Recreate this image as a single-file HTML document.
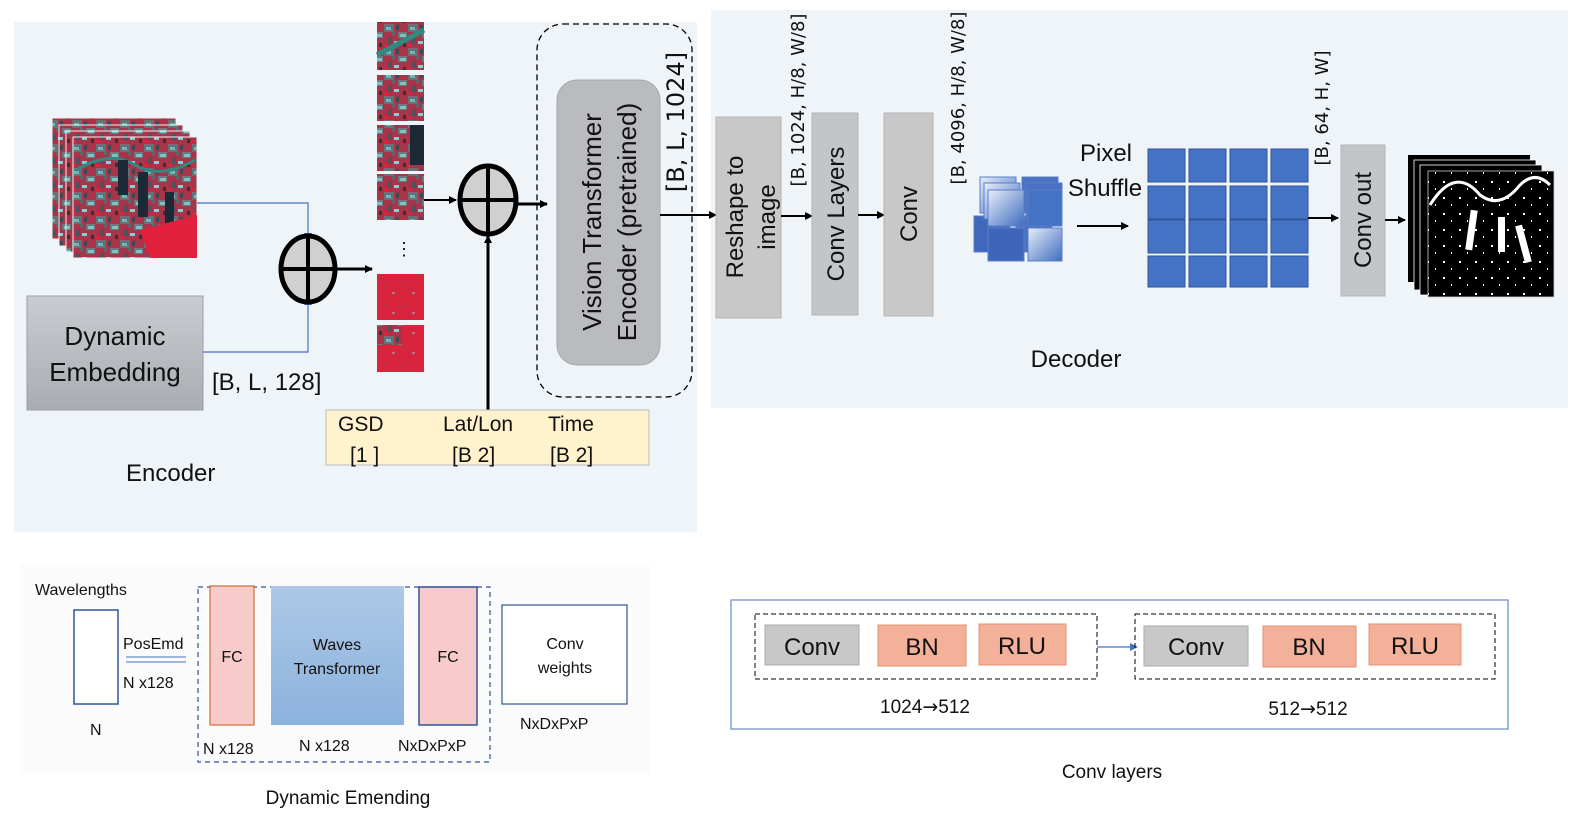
<!DOCTYPE html>
<html><head><meta charset="utf-8"><style>
html,body{margin:0;padding:0;background:#fff;}
svg{display:block;}
text{font-family:"Liberation Sans",sans-serif;fill:#111;}
.dv{font-family:"DejaVu Sans",sans-serif;}
</style></head><body>
<svg width="1584" height="825" viewBox="0 0 1584 825" xmlns="http://www.w3.org/2000/svg">
<defs>
<marker id="ah" markerWidth="8" markerHeight="8" refX="7" refY="4" orient="auto" markerUnits="userSpaceOnUse"><path d="M0,0 L8,4 L0,8 z" fill="#000"/></marker>
<marker id="ab" markerWidth="8" markerHeight="8" refX="7" refY="4" orient="auto" markerUnits="userSpaceOnUse"><path d="M0,0 L8,4 L0,8 z" fill="#4472c4"/></marker>
<pattern id="sat" width="24" height="24" patternUnits="userSpaceOnUse">
<rect width="24" height="24" fill="#a8344a"/>
<rect x="0" y="0" width="10" height="8" fill="#6a6f78"/><rect x="2" y="3" width="5" height="3" fill="#6fb8b8"/><rect x="12" y="1" width="3" height="5" fill="#3d4a55"/>
<rect x="14" y="8" width="9" height="6" fill="#707880"/><rect x="16" y="10" width="6" height="3" fill="#7cc4c4"/><rect x="4" y="14" width="4" height="6" fill="#4a5560"/>
<rect x="10" y="17" width="5" height="3" fill="#8ad0d0"/><rect x="19" y="19" width="3" height="4" fill="#333"/>
<rect x="8" y="8" width="3" height="3" fill="#5a6a75"/><rect x="0" y="20" width="4" height="3" fill="#d02a40"/>
</pattern>
<pattern id="sat2" width="20" height="20" patternUnits="userSpaceOnUse">
<rect width="20" height="20" fill="#d8243c"/>
<rect x="3" y="4" width="3" height="2" fill="#a04050"/><rect x="12" y="12" width="3" height="2" fill="#c07080"/>
</pattern>
<pattern id="mask" width="16" height="16" patternUnits="userSpaceOnUse">
<rect width="16" height="16" fill="#000"/><rect x="3" y="5" width="2" height="2" fill="#fff"/><rect x="11" y="12" width="1" height="2" fill="#fff"/>
</pattern>
<linearGradient id="gemb" x1="0" y1="0" x2="0" y2="1"><stop offset="0" stop-color="#c9ccd0"/><stop offset="1" stop-color="#a9adb2"/></linearGradient>
<linearGradient id="gwave" x1="0" y1="0" x2="0" y2="1"><stop offset="0" stop-color="#adc8e6"/><stop offset="1" stop-color="#8cb2de"/></linearGradient>
<linearGradient id="gcube" x1="0" y1="0" x2="1" y2="1"><stop offset="0" stop-color="#e8eef8"/><stop offset="1" stop-color="#3e6cc0"/></linearGradient>
</defs>

<rect x="14" y="22" width="683" height="510" fill="#eff4f9"/>
<rect x="711" y="10" width="857" height="398" fill="#eff4f9"/>
<rect x="20" y="565" width="630" height="210" fill="#fbfbfb"/>

<rect x="52" y="118" width="124" height="121" fill="url(#sat)" stroke="#eee"/>
<rect x="59" y="125" width="124" height="121" fill="url(#sat)" stroke="#eee"/>
<rect x="66" y="131" width="124" height="121" fill="url(#sat)" stroke="#eee"/>
<rect x="73" y="137" width="124" height="121" fill="url(#sat)" stroke="#eee"/>
<path d="M76,170 Q110,150 135,165 Q160,180 195,160" stroke="#2f8a80" stroke-width="3" fill="none"/>
<rect x="118" y="160" width="10" height="35" fill="#1c2a38"/><rect x="138" y="172" width="10" height="45" fill="#1c2a38"/><rect x="165" y="192" width="9" height="32" fill="#1c2a38"/>
<path d="M140,230 L197,215 L197,258 L150,258 z" fill="#e0203c"/>

<rect x="27" y="296" width="176" height="114" fill="url(#gemb)" stroke="#9a9ea3"/>
<text x="115" y="345" font-size="26" text-anchor="middle">Dynamic</text>
<text x="115" y="381" font-size="26" text-anchor="middle">Embedding</text>
<text x="212" y="390" font-size="24">[B, L, 128]</text>

<polyline points="197,203 308,203 308,240" fill="none" stroke="#4472c4" stroke-width="1.2" marker-end="url(#ab)"/>
<polyline points="203,352 308,352 308,298" fill="none" stroke="#4472c4" stroke-width="1.2" marker-end="url(#ab)"/>

<ellipse cx="308" cy="269" rx="27" ry="33" fill="#d0d0d0" stroke="#000" stroke-width="5"/>
<line x1="281" y1="269" x2="335" y2="269" stroke="#000" stroke-width="4"/>
<line x1="308" y1="236" x2="308" y2="302" stroke="#000" stroke-width="4"/>
<line x1="336" y1="269" x2="372" y2="269" stroke="#000" stroke-width="3" marker-end="url(#ah)"/>

<rect x="377" y="22" width="47" height="48" fill="url(#sat)"/>
<path d="M377,55 L424,30" stroke="#2f8a80" stroke-width="5"/>
<rect x="377" y="75" width="47" height="46" fill="url(#sat)"/>
<rect x="377" y="125" width="47" height="46" fill="url(#sat)"/>
<rect x="410" y="125" width="14" height="40" fill="#1c2a38"/>
<rect x="377" y="174" width="47" height="46" fill="url(#sat)"/>
<text x="404" y="255" font-size="18" text-anchor="middle">⋮</text>
<rect x="377" y="274" width="47" height="46" fill="url(#sat2)"/>
<rect x="377" y="325" width="47" height="47" fill="url(#sat2)"/>
<rect x="377" y="325" width="25" height="20" fill="url(#sat)"/>

<line x1="424" y1="200" x2="456" y2="200" stroke="#000" stroke-width="2" marker-end="url(#ah)"/>

<ellipse cx="488" cy="200" rx="28" ry="34" fill="#d0d0d0" stroke="#000" stroke-width="5"/>
<line x1="460" y1="200" x2="516" y2="200" stroke="#000" stroke-width="4"/>
<line x1="488" y1="166" x2="488" y2="234" stroke="#000" stroke-width="4"/>
<line x1="517" y1="204" x2="547" y2="204" stroke="#000" stroke-width="3" marker-end="url(#ah)"/>
<line x1="488" y1="410" x2="488" y2="236" stroke="#000" stroke-width="3" marker-end="url(#ah)"/>

<rect x="326" y="410" width="323" height="55" fill="#fff2cc" stroke="#bbb"/>
<text x="338" y="431" font-size="21">GSD</text>
<text x="443" y="431" font-size="21">Lat/Lon</text>
<text x="548" y="431" font-size="21">Time</text>
<text x="350" y="462" font-size="21">[1 ]</text>
<text x="452" y="462" font-size="21">[B 2]</text>
<text x="550" y="462" font-size="21">[B 2]</text>
<text x="126" y="481" font-size="24">Encoder</text>

<rect x="537" y="24" width="155" height="373" rx="26" fill="none" stroke="#000" stroke-width="1.3" stroke-dasharray="6,4"/>
<rect x="557" y="80" width="103" height="285" rx="20" fill="#b9bbbe" stroke="#a6a8ab"/>
<text transform="translate(601,222) rotate(-90)" font-size="26" text-anchor="middle">Vision Transformer</text>
<text transform="translate(636,222) rotate(-90)" font-size="26" text-anchor="middle">Encoder (pretrained)</text>
<text transform="translate(684,122) rotate(-90)" font-size="24" text-anchor="middle" class="dv">[B, L, 1024]</text>
<line x1="660" y1="215" x2="716" y2="215" stroke="#000" stroke-width="2" marker-end="url(#ah)"/>

<rect x="716" y="117" width="65" height="201" fill="#c8c8c8" stroke="#b5b5b5"/>
<text transform="translate(743,217) rotate(-90)" font-size="24" text-anchor="middle">Reshape to</text>
<text transform="translate(775,217) rotate(-90)" font-size="24" text-anchor="middle">image</text>
<text transform="translate(804,100) rotate(-90)" font-size="18" text-anchor="middle" class="dv">[B, 1024, H/8, W/8]</text>
<line x1="781" y1="216" x2="812" y2="216" stroke="#000" stroke-width="2" marker-end="url(#ah)"/>
<rect x="812" y="113" width="46" height="202" fill="#c3c6c9" stroke="#b0b3b6"/>
<text transform="translate(844,214) rotate(-90)" font-size="24" text-anchor="middle">Conv Layers</text>
<line x1="858" y1="215" x2="884" y2="215" stroke="#000" stroke-width="2" marker-end="url(#ah)"/>
<rect x="884" y="113" width="49" height="203" fill="#c8c8c8" stroke="#b5b5b5"/>
<text transform="translate(917,214) rotate(-90)" font-size="24" text-anchor="middle">Conv</text>
<text transform="translate(964,98) rotate(-90)" font-size="18" text-anchor="middle" class="dv">[B, 4096, H/8, W/8]</text>

<g stroke="#5a7fc8" stroke-width="1">
<rect x="980" y="177" width="36" height="36" fill="url(#gcube)"/><rect x="1022" y="177" width="36" height="36" fill="#4a72c2"/>
<rect x="974" y="216" width="36" height="36" fill="#3f68bd"/><rect x="1016" y="216" width="36" height="36" fill="#4a72c2"/>
<rect x="984" y="183" width="36" height="36" fill="url(#gcube)"/><rect x="1026" y="183" width="36" height="36" fill="#4a72c2"/>
<rect x="988" y="190" width="36" height="36" fill="url(#gcube)"/><rect x="1028" y="190" width="34" height="36" fill="#4472c4"/>
<rect x="988" y="228" width="36" height="33" fill="#3d66bb"/><rect x="1028" y="228" width="34" height="33" fill="url(#gcube)"/>
</g>
<text x="1106" y="161" font-size="24" text-anchor="middle">Pixel</text>
<text x="1105" y="196" font-size="24" text-anchor="middle">Shuffle</text>
<line x1="1077" y1="226" x2="1128" y2="226" stroke="#000" stroke-width="2" marker-end="url(#ah)"/>

<g fill="#4472c4" stroke="#2f5597" stroke-width="1">
<rect x="1148" y="149" width="37" height="33"/><rect x="1189" y="149" width="37" height="33"/><rect x="1230" y="149" width="37" height="33"/><rect x="1271" y="149" width="37" height="33"/>
<rect x="1148" y="186" width="37" height="33"/><rect x="1189" y="186" width="37" height="33"/><rect x="1230" y="186" width="37" height="33"/><rect x="1271" y="186" width="37" height="33"/>
<rect x="1148" y="220" width="37" height="33"/><rect x="1189" y="220" width="37" height="33"/><rect x="1230" y="220" width="37" height="33"/><rect x="1271" y="220" width="37" height="33"/>
<rect x="1148" y="256" width="37" height="31"/><rect x="1189" y="256" width="37" height="31"/><rect x="1230" y="256" width="37" height="31"/><rect x="1271" y="256" width="37" height="31"/>
</g>
<text transform="translate(1328,108) rotate(-90)" font-size="18" text-anchor="middle" class="dv">[B, 64, H, W]</text>
<line x1="1308" y1="218" x2="1338" y2="218" stroke="#000" stroke-width="2" marker-end="url(#ah)"/>
<rect x="1341" y="145" width="44" height="151" fill="#c3c6c9" stroke="#b0b3b6"/>
<text transform="translate(1371,220) rotate(-90)" font-size="24" text-anchor="middle">Conv out</text>
<line x1="1385" y1="220" x2="1405" y2="220" stroke="#000" stroke-width="2" marker-end="url(#ah)"/>
<rect x="1408" y="155" width="122" height="127" fill="#000"/>
<rect x="1414" y="160" width="122" height="130" fill="#000" stroke="#fff" stroke-width="0.8"/>
<rect x="1420" y="165" width="122" height="130" fill="#000" stroke="#fff" stroke-width="0.8"/>
<rect x="1428" y="171" width="126" height="126" fill="url(#mask)" stroke="#ccc" stroke-width="0.8"/>
<path d="M1430,205 Q1455,165 1480,195 Q1500,210 1520,185 Q1535,170 1550,185" stroke="#fff" stroke-width="3" fill="none"/>
<rect x="1468" y="210" width="7" height="40" fill="#fff" transform="rotate(8 1471 230)"/>
<rect x="1498" y="217" width="7" height="35" fill="#fff"/>
<rect x="1520" y="225" width="7" height="38" fill="#fff" transform="rotate(-15 1523 244)"/>
<text x="1076" y="367" font-size="24" text-anchor="middle">Decoder</text>

<text x="35" y="595" font-size="16">Wavelengths</text>
<rect x="74" y="610" width="44" height="94" fill="#fff" stroke="#2f5597" stroke-width="1.5"/>
<text x="90" y="735" font-size="16">N</text>
<text x="123" y="649" font-size="16">PosEmd</text>
<line x1="126" y1="657" x2="186" y2="657" stroke="#4472c4"/>
<line x1="126" y1="662" x2="186" y2="662" stroke="#4472c4"/>
<text x="123" y="688" font-size="16">N x128</text>
<rect x="198" y="587" width="292" height="175" fill="none" stroke="#2f5597" stroke-width="1.2" stroke-dasharray="5,4"/>
<rect x="210" y="586" width="44" height="139" fill="#f8cbcb" stroke="#c55a11" stroke-width="1"/>
<text x="232" y="662" font-size="16" text-anchor="middle">FC</text>
<rect x="271" y="586" width="133" height="139" fill="url(#gwave)"/>
<text x="337" y="650" font-size="16" text-anchor="middle">Waves</text>
<text x="337" y="674" font-size="16" text-anchor="middle">Transformer</text>
<rect x="419" y="587" width="58" height="138" fill="#f8cbcb" stroke="#2f5597" stroke-width="1.5"/>
<text x="448" y="662" font-size="16" text-anchor="middle">FC</text>
<rect x="502" y="605" width="125" height="99" fill="#fff" stroke="#2f5597" stroke-width="1.2"/>
<text x="565" y="649" font-size="16" text-anchor="middle">Conv</text>
<text x="565" y="673" font-size="16" text-anchor="middle">weights</text>
<text x="520" y="729" font-size="16">NxDxPxP</text>
<text x="203" y="754" font-size="16">N x128</text>
<text x="299" y="751" font-size="16">N x128</text>
<text x="398" y="751" font-size="16">NxDxPxP</text>
<text x="348" y="804" font-size="19" text-anchor="middle">Dynamic Emending</text>

<rect x="731" y="600" width="777" height="129" fill="#fff" stroke="#6f96c8" stroke-width="1.3"/>
<rect x="755" y="614" width="342" height="65" fill="none" stroke="#000" stroke-dasharray="5,3"/>
<rect x="765" y="625" width="94" height="40" fill="#c8c8c8" stroke="#aaa"/>
<text x="812" y="655" font-size="24" text-anchor="middle">Conv</text>
<rect x="878" y="625" width="88" height="41" fill="#f4b19a" stroke="#e59070"/>
<text x="922" y="655" font-size="24" text-anchor="middle">BN</text>
<rect x="979" y="624" width="87" height="41" fill="#f4b19a" stroke="#e59070"/>
<text x="1022" y="654" font-size="24" text-anchor="middle">RLU</text>
<line x1="1097" y1="647" x2="1137" y2="647" stroke="#4472c4" stroke-width="1.2" marker-end="url(#ab)"/>
<rect x="1135" y="614" width="360" height="65" fill="none" stroke="#000" stroke-dasharray="5,3"/>
<rect x="1144" y="626" width="104" height="40" fill="#c8c8c8" stroke="#aaa"/>
<text x="1196" y="655" font-size="24" text-anchor="middle">Conv</text>
<rect x="1263" y="626" width="93" height="41" fill="#f4b19a" stroke="#e59070"/>
<text x="1309" y="655" font-size="24" text-anchor="middle">BN</text>
<rect x="1369" y="624" width="92" height="41" fill="#f4b19a" stroke="#e59070"/>
<text x="1415" y="654" font-size="24" text-anchor="middle">RLU</text>
<text x="925" y="713" font-size="19" text-anchor="middle">1024<tspan class="dv">→</tspan>512</text>
<text x="1308" y="715" font-size="19" text-anchor="middle">512<tspan class="dv">→</tspan>512</text>
<text x="1112" y="778" font-size="19" text-anchor="middle">Conv layers</text>
</svg>
</body></html>
